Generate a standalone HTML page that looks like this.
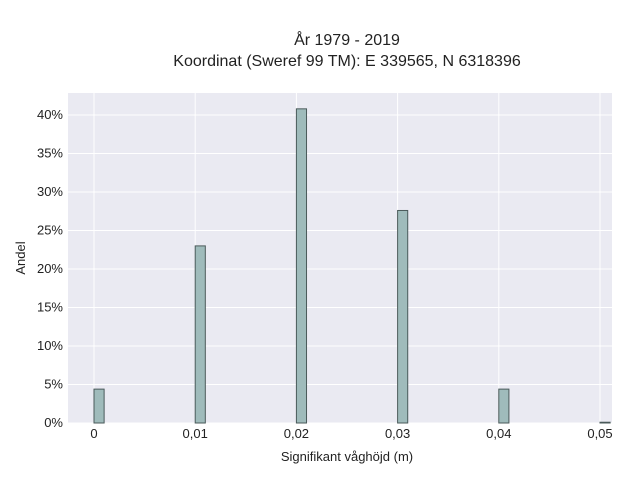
<!DOCTYPE html>
<html><head><meta charset="utf-8"><style>
body{margin:0;background:#fff;font-family:"Liberation Sans",sans-serif}
text{font-family:"Liberation Sans",sans-serif;fill:#222}
</style></head><body>
<svg id="c" width="640" height="480">
<text x="347" y="45" font-size="16" text-anchor="middle">År 1979 - 2019</text>
<text x="347" y="66" font-size="16" text-anchor="middle">Koordinat (Sweref 99 TM): E 339565, N 6318396</text>
<rect x="68" y="93" width="544" height="330" fill="#eaeaf2"/>
<g id="grid"></g><g id="bars"></g><g id="ticks"></g>
<text x="347" y="461" font-size="13" text-anchor="middle">Signifikant våghöjd (m)</text>
<text transform="translate(25,258) rotate(-90)" font-size="13" text-anchor="middle">Andel</text>
</svg>
<script>
const categories=[0,0.01,0.02,0.03,0.04,0.05];
const values=[4.4,23.0,40.8,27.6,4.4,0.1];
const xTicks=[0,0.01,0.02,0.03,0.04,0.05];
const xTickLabels=["0","0,01","0,02","0,03","0,04","0,05"];
const yTicks=[0,5,10,15,20,25,30,35,40];
const ns="http://www.w3.org/2000/svg";
const X=v=>94+v*10120, Y=v=>423-v*7.7;
function mk(t,a,p){const e=document.createElementNS(ns,t);for(const k in a)e.setAttribute(k,a[k]);p.appendChild(e);return e;}
const g=document.getElementById('grid'),b=document.getElementById('bars'),tk=document.getElementById('ticks');
yTicks.forEach(v=>{const l=mk('line',{x1:68,x2:612,y1:Y(v),y2:Y(v),stroke:'#fff','stroke-width':1},g);

const t=mk('text',{x:63,y:Y(v)+4,'font-size':13,'text-anchor':'end'},tk);t.textContent=v+'%';
});
xTicks.forEach((v,i)=>{const l=mk('line',{x1:X(v),x2:X(v),y1:93,y2:423,stroke:'#fff','stroke-width':1},g);

const t=mk('text',{x:X(v),y:438,'font-size':13,'text-anchor':'middle'},tk);t.textContent=xTickLabels[i];
});
categories.forEach((c,i)=>{const r=mk('rect',{x:X(c),y:Y(values[i]),width:X(c+0.001)-X(c),height:Y(0)-Y(values[i]),fill:'#9fbbbb',stroke:'#4a5a5a','stroke-width':1},b);
});
</script>
</body></html>
